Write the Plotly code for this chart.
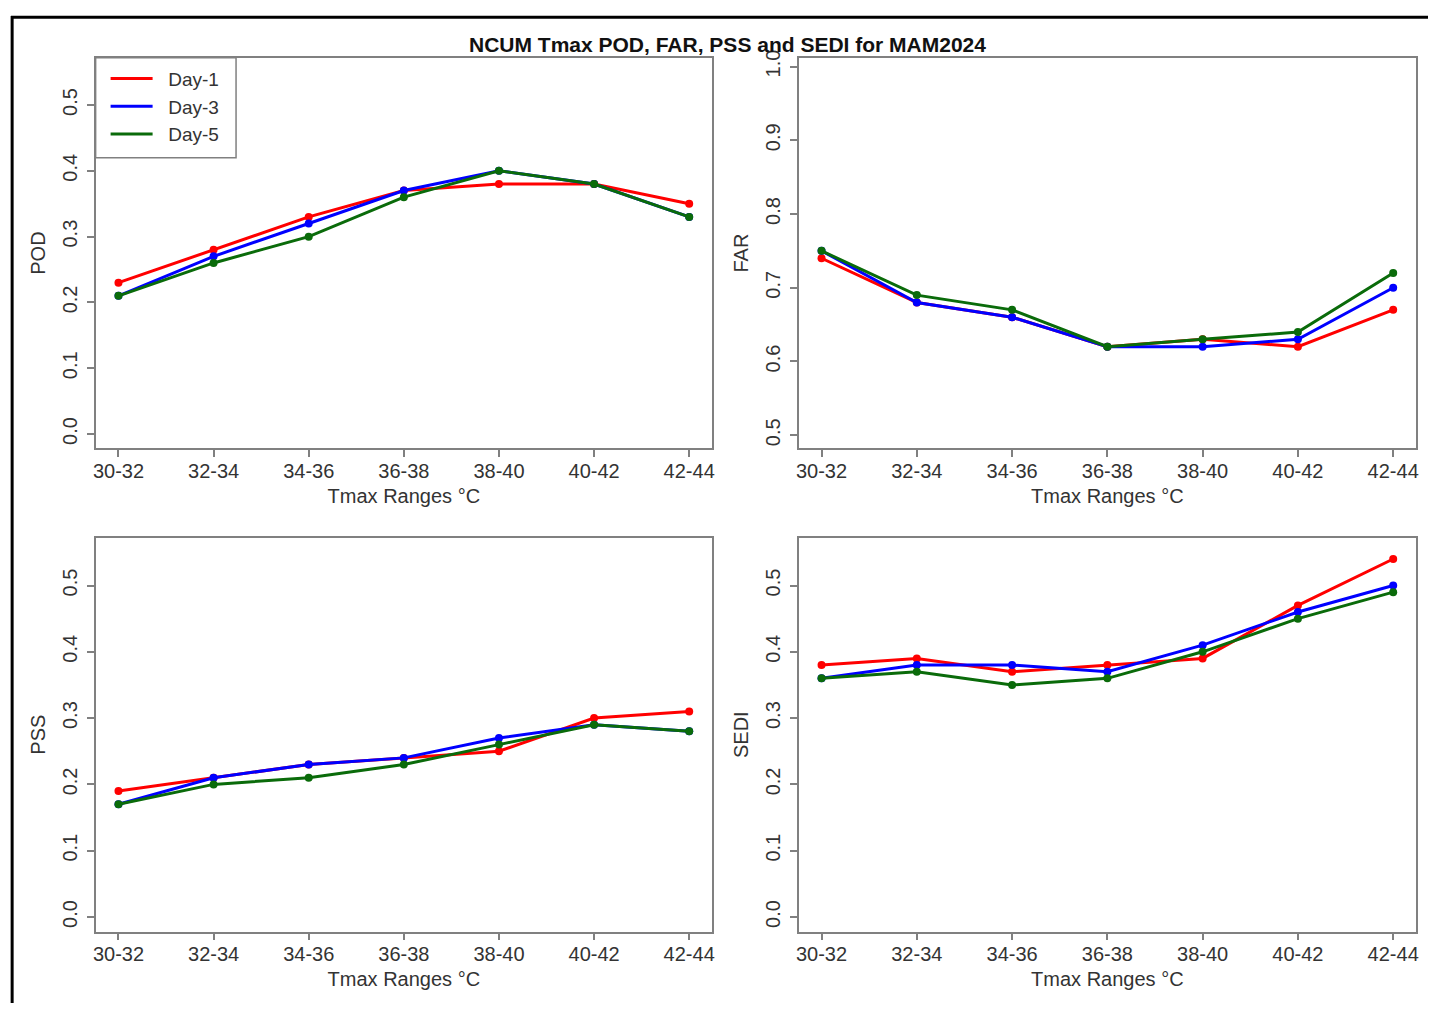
import plotly.graph_objects as go
from plotly.subplots import make_subplots

categories = ["30-32", "32-34", "34-36", "36-38", "38-40", "40-42", "42-44"]
series_names = ["Day-1", "Day-3", "Day-5"]
colors = ["#ff0000", "#0000ff", "#0a6b0a"]

pod_day1 = [0.23, 0.28, 0.33, 0.37, 0.38, 0.38, 0.35]
pod_day3 = [0.21, 0.27, 0.32, 0.37, 0.40, 0.38, 0.33]
pod_day5 = [0.21, 0.26, 0.30, 0.36, 0.40, 0.38, 0.33]

far_day1 = [0.74, 0.68, 0.66, 0.62, 0.63, 0.62, 0.67]
far_day3 = [0.75, 0.68, 0.66, 0.62, 0.62, 0.63, 0.70]
far_day5 = [0.75, 0.69, 0.67, 0.62, 0.63, 0.64, 0.72]

pss_day1 = [0.19, 0.21, 0.23, 0.24, 0.25, 0.30, 0.31]
pss_day3 = [0.17, 0.21, 0.23, 0.24, 0.27, 0.29, 0.28]
pss_day5 = [0.17, 0.20, 0.21, 0.23, 0.26, 0.29, 0.28]

sedi_day1 = [0.38, 0.39, 0.37, 0.38, 0.39, 0.47, 0.54]
sedi_day3 = [0.36, 0.38, 0.38, 0.37, 0.41, 0.46, 0.50]
sedi_day5 = [0.36, 0.37, 0.35, 0.36, 0.40, 0.45, 0.49]

pod_ticks = [0.0, 0.1, 0.2, 0.3, 0.4, 0.5]
far_ticks = [0.5, 0.6, 0.7, 0.8, 0.9, 1.0]

title_text = "NCUM Tmax POD, FAR, PSS and SEDI for MAM2024"
x_title = "Tmax Ranges °C"

panels = [
    ("POD", [pod_day1, pod_day3, pod_day5], pod_ticks, [-0.022, 0.572], 1, 1),
    ("FAR", [far_day1, far_day3, far_day5], far_ticks, [0.482, 1.012], 1, 2),
    ("PSS", [pss_day1, pss_day3, pss_day5], pod_ticks, [-0.022, 0.572], 2, 1),
    ("SEDI", [sedi_day1, sedi_day3, sedi_day5], pod_ticks, [-0.022, 0.572], 2, 2),
]

W, H = 1423, 995
OFFX, OFFY = 8, 14  # where the figure starts on the page


def dx(px):
    return (px - OFFX) / W


def dy(py):
    return 1 - (py - OFFY) / H


fig = make_subplots(rows=2, cols=2)

FONT = "Liberation Sans, Arial, Helvetica, sans-serif"
AXC = "#808080"
TXT = "#333333"
FS = 20

for name, vals, ticks, yr, r, c in panels:
    for sname, v, col in zip(series_names, vals, colors):
        fig.add_trace(
            go.Scatter(
                x=categories, y=v, mode="lines+markers", name=sname,
                line=dict(color=col, width=3),
                marker=dict(color=col, size=8),
                showlegend=False,
            ),
            row=r, col=c,
        )
    fig.update_yaxes(
        range=yr, tickvals=ticks, tickformat=".1f", tickangle=-90,
        ticklabelstandoff=2,
        title=dict(text=name, standoff=8, font=dict(size=FS, color=TXT, family=FONT)),
        row=r, col=c,
    )
    fig.update_xaxes(
        range=[-0.24, 6.24], type="category",
        ticklabelstandoff=-3,
        title=dict(text=x_title, standoff=8, font=dict(size=FS, color=TXT, family=FONT)),
        row=r, col=c,
    )

# legend entries (lines only, as in the original)
for sname, col in zip(series_names, colors):
    fig.add_trace(
        go.Scatter(x=[None], y=[None], mode="lines", name="\u00a0\u00a0" + sname,
                   line=dict(color=col, width=3), showlegend=True),
        row=1, col=1,
    )

fig.update_xaxes(
    showline=True, linecolor=AXC, linewidth=1.5, mirror=True,
    ticks="outside", ticklen=7, tickcolor=AXC, tickwidth=1.5,
    showgrid=False, zeroline=False,
    tickfont=dict(size=FS, color=TXT, family=FONT),
)
fig.update_yaxes(
    showline=True, linecolor=AXC, linewidth=1.5, mirror=True,
    ticks="outside", ticklen=7, tickcolor=AXC, tickwidth=1.5,
    showgrid=False, zeroline=False,
    tickfont=dict(size=FS, color=TXT, family=FONT),
)

# panel domains (matching the reference geometry)
left_x = [dx(93), dx(712)]
right_x = [dx(799), dx(1419)]
top_y = [dy(450), dy(56)]
bot_y = [dy(937), dy(540)]
fig.update_layout(
    xaxis=dict(domain=left_x), yaxis=dict(domain=top_y),
    xaxis2=dict(domain=right_x), yaxis2=dict(domain=top_y),
    xaxis3=dict(domain=left_x), yaxis3=dict(domain=bot_y),
    xaxis4=dict(domain=right_x), yaxis4=dict(domain=bot_y),
)

fig.add_annotation(
    text="<b>" + title_text + "</b>", xref="paper", yref="paper",
    x=dx(728), y=dy(43), xanchor="center", yanchor="middle", showarrow=False,
    font=dict(size=21, color="#111111", family=FONT),
)

# legend frame
fig.add_shape(type="rect", xref="paper", yref="paper",
              x0=dx(93), x1=dx(234), y0=dy(157), y1=dy(56),
              line=dict(color=AXC, width=1.5), fillcolor="white", layer="below")

# outer frame lines (top and left) seen in the reference screenshot
fig.add_shape(type="line", xref="paper", yref="paper", x0=0.0008, x1=0.0008, y0=0, y1=1.0,
              line=dict(color="black", width=3))
fig.add_shape(type="line", xref="paper", yref="paper", x0=0, x1=1, y0=0.9988, y1=0.9988,
              line=dict(color="black", width=3))

fig.update_layout(
    width=W, height=H,
    margin=dict(l=0, r=0, t=0, b=0),
    paper_bgcolor="white", plot_bgcolor="white",
    font=dict(family=FONT, color=TXT),
    showlegend=True,
    legend=dict(
        x=dx(103), y=dy(58), xanchor="left", yanchor="top",
        bgcolor="rgba(0,0,0,0)", borderwidth=0,
        font=dict(size=19, color=TXT, family=FONT),
        itemwidth=42, tracegroupgap=0,
    ),
)

fig.write_html("out.html")
